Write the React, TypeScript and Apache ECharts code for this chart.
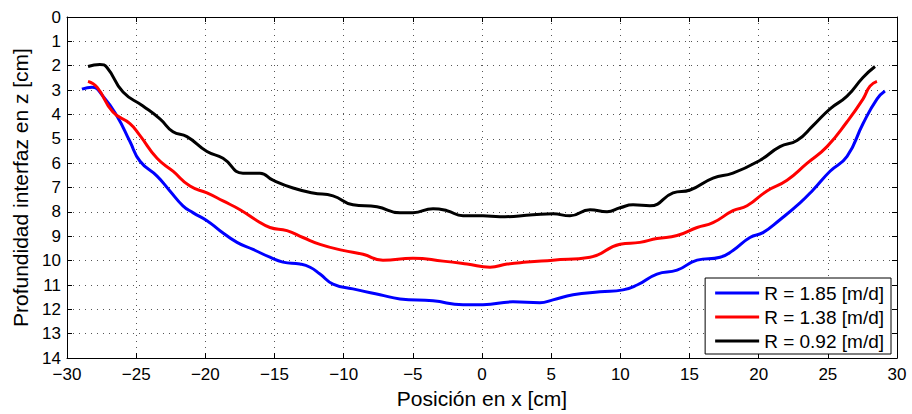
import React, { useEffect, useRef } from "react";
import * as echarts from "echarts";

const xTicks = [-30, -25, -20, -15, -10, -5, 0, 5, 10, 15, 20, 25, 30];
const yTicks = [0, 1, 2, 3, 4, 5, 6, 7, 8, 9, 10, 11, 12, 13, 14];

const seriesNames = ["R = 1.85 [m/d]", "R = 1.38 [m/d]", "R = 0.92 [m/d]"];
const seriesColors = ["#0000ff", "#ff0000", "#000000"];

const blueX = [-28.92, -28.19, -27.4, -26.39, -25.45, -24.72, -23.49, -22.56, -21.62, -20.9, -19.88, -18.94, -17.71, -16.55, -15.33, -14.39, -13.16, -12.43, -11.71, -10.77, -9.33, -7.37, -5.93, -3.54, -1.37, 0.07, 2.24, 4.19, 5.13, 6.58, 8.53, 10.19, 11.21, 12.65, 14.1, 15.55, 17.21, 18.14, 19.37, 20.31, 21.54, 22.99, 23.93, 25.16, 26.39, 27.54, 28.55, 29.13];
const blueY = [2.96, 2.88, 3.25, 4.06, 5.11, 5.92, 6.53, 7.14, 7.75, 8.03, 8.36, 8.77, 9.25, 9.54, 9.86, 10.06, 10.14, 10.27, 10.55, 10.96, 11.16, 11.4, 11.57, 11.65, 11.81, 11.81, 11.69, 11.73, 11.61, 11.4, 11.28, 11.2, 11.0, 10.55, 10.39, 9.98, 9.86, 9.58, 9.05, 8.85, 8.32, 7.63, 7.1, 6.33, 5.72, 4.38, 3.37, 3.04];

const redX = [-28.48, -27.83, -26.68, -25.45, -24.72, -23.49, -22.34, -21.11, -19.88, -18.72, -17.49, -16.26, -15.33, -14.1, -12.94, -11.71, -10.05, -8.6, -7.16, -4.99, -2.82, -1.08, 0.58, 1.81, 3.25, 5.13, 7.81, 9.98, 11.42, 12.65, 14.1, 15.55, 16.7, 18.14, 19.16, 20.6, 22.05, 23.49, 24.94, 26.39, 27.54, 28.05, 28.55];
const redY = [2.64, 2.88, 3.9, 4.38, 4.87, 5.8, 6.33, 6.94, 7.22, 7.55, 7.91, 8.36, 8.64, 8.77, 9.05, 9.33, 9.58, 9.74, 9.98, 9.9, 10.02, 10.14, 10.27, 10.14, 10.06, 9.98, 9.86, 9.33, 9.25, 9.09, 8.97, 8.64, 8.44, 7.95, 7.75, 7.14, 6.7, 6.01, 5.32, 4.3, 3.37, 2.84, 2.64];

const blackX = [-28.48, -27.62, -27.11, -25.95, -24.51, -23.28, -22.34, -21.33, -19.88, -18.72, -17.28, -16.05, -15.11, -13.66, -12.22, -10.77, -9.33, -7.59, -5.93, -4.99, -3.54, -2.53, -1.37, 0.07, 1.3, 3.69, 5.13, 6.36, 7.81, 9.04, 9.98, 10.92, 12.14, 13.81, 15.04, 16.7, 18.14, 20.1, 21.54, 22.77, 23.93, 25.16, 26.39, 27.54, 28.41];
const blackY = [2.03, 1.95, 2.07, 3.08, 3.65, 4.18, 4.71, 4.91, 5.52, 5.8, 6.41, 6.41, 6.7, 7.02, 7.22, 7.34, 7.71, 7.79, 8.03, 8.03, 7.87, 7.95, 8.16, 8.16, 8.2, 8.12, 8.08, 8.16, 7.91, 7.99, 7.83, 7.71, 7.75, 7.22, 7.1, 6.61, 6.41, 5.88, 5.32, 5.07, 4.46, 3.77, 3.25, 2.48, 2.03];

const FONT = "'Liberation Sans', Arial, sans-serif";

function pairs(xs: number[], ys: number[]) {
  return xs.map((x, i) => [x, ys[i]]);
}

export default function App() {
  const ref = useRef<HTMLDivElement>(null);
  useEffect(() => {
    if (!ref.current) return;
    const chart = echarts.init(ref.current, null, { renderer: "svg" });
    const fmt = (v: number) => (v < 0 ? "\u2212" + Math.abs(v) : String(v));
    const axisLine = { show: true, onZero: false, lineStyle: { color: "#000", width: 1 } };
    const tick = { show: true, inside: true, length: 5, lineStyle: { color: "#000" } };
    const grid = { show: true, lineStyle: { color: "#555", type: [1, 5], width: 1 } };
    const datasets = [pairs(blueX, blueY), pairs(redX, redY), pairs(blackX, blackY)];
    chart.setOption({
      animation: false,
      backgroundColor: "#fff",
      textStyle: { fontFamily: FONT },
      grid: { left: 67, right: 15, top: 17, bottom: 52, containLabel: false },
      xAxis: [
        {
          type: "value",
          min: xTicks[0],
          max: xTicks[xTicks.length - 1],
          interval: 5,
          position: "bottom",
          name: "Posición en x [cm]",
          nameLocation: "middle",
          nameGap: 29,
          nameTextStyle: { fontSize: 21, color: "#000", fontFamily: FONT },
          axisLine,
          axisTick: tick,
          axisLabel: { formatter: fmt, fontSize: 17, color: "#000", margin: 8, fontFamily: FONT },
          splitLine: grid,
        },
        {
          type: "value",
          min: xTicks[0],
          max: xTicks[xTicks.length - 1],
          interval: 5,
          position: "top",
          axisLine,
          axisTick: tick,
          axisLabel: { show: false },
          splitLine: { show: false },
        },
      ],
      yAxis: [
        {
          type: "value",
          inverse: true,
          min: yTicks[0],
          max: yTicks[yTicks.length - 1],
          interval: 1,
          position: "left",
          name: "Profundidad interfaz en z [cm]",
          nameLocation: "middle",
          nameGap: 35,
          nameTextStyle: { fontSize: 21, color: "#000", fontFamily: FONT },
          axisLine,
          axisTick: tick,
          axisLabel: { fontSize: 17, color: "#000", margin: 6, fontFamily: FONT },
          splitLine: grid,
        },
        {
          type: "value",
          inverse: true,
          min: yTicks[0],
          max: yTicks[yTicks.length - 1],
          interval: 1,
          position: "right",
          axisLine,
          axisTick: tick,
          axisLabel: { show: false },
          splitLine: { show: false },
        },
      ],
      legend: {
        show: true,
        orient: "vertical",
        right: 21,
        top: 278,
        backgroundColor: "#fff",
        borderColor: "#000",
        borderWidth: 1,
        borderRadius: 0,
        padding: [5, 7, 3, 10],
        itemGap: 4,
        itemWidth: 44,
        itemHeight: 3,
        icon: "rect",
        textStyle: { fontSize: 19, color: "#000", fontFamily: FONT, lineHeight: 20 },
        data: seriesNames,
      },
      series: datasets.map((d, i) => ({
        name: seriesNames[i],
        type: "line",
        data: d,
        smooth: 0.5,
        showSymbol: false,
        symbol: "none",
        xAxisIndex: 0,
        yAxisIndex: 0,
        lineStyle: { color: seriesColors[i], width: 3 },
        itemStyle: { color: seriesColors[i] },
        z: 3 + i,
      })),
    });
    return () => chart.dispose();
  }, []);
  return <div ref={ref} style={{ width: 912, height: 414, position: "absolute", left: 0, top: 0 }} />;
}
